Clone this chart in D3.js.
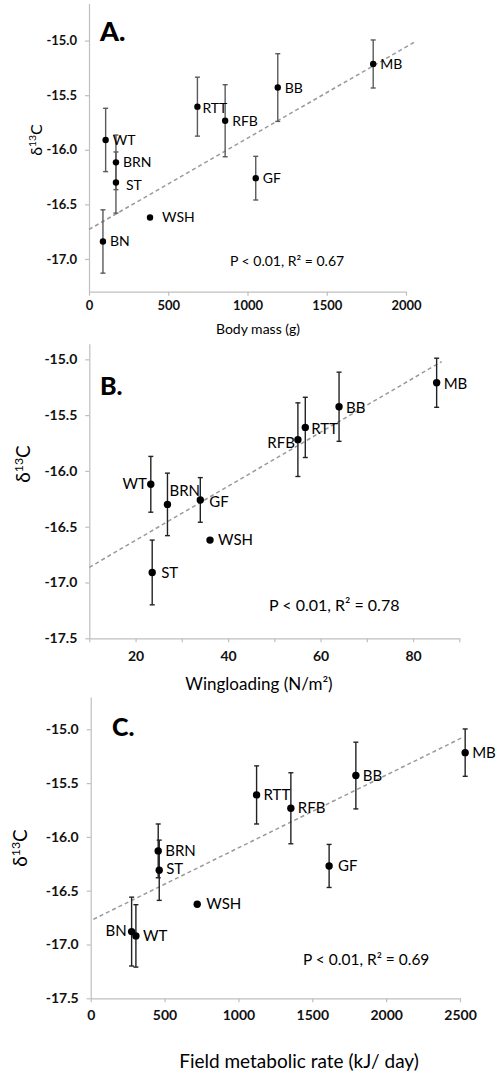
<!DOCTYPE html>
<html><head><meta charset="utf-8">
<script src="https://cdn.jsdelivr.net/npm/d3@7/dist/d3.min.js"></script>
<style>
html,body{margin:0;padding:0;background:#fff;}
svg{display:block;font-family:Lato,"Open Sans",sans-serif;}
</style></head>
<body>
<svg id="chart" width="498" height="1077"></svg>
<script>
// ---------- DATA ----------
// Panel A: body mass (g)
const namesA = ["WT","BRN","ST","BN","WSH","RTT","RFB","BB","GF","MB"];
const xA     = [105, 170, 170, 88, 385, 684, 859, 1191, 1052, 1793];
const yA     = [-15.91,-16.115,-16.30,-16.84,-16.62,-15.605,-15.734,-15.43,-16.26,-15.214];
const errA   = [0.29, 0.25, 0.28, 0.29, 0, 0.27, 0.33, 0.31, 0.20, 0.22];
const trendA = {x0:0, x1:2058, intercept:-16.73, slope:0.000836};
const xTicksA = [0,500,1000,1500,2000];
const yTicksA = [-15.0,-15.5,-16.0,-16.5,-17.0];

// Panel B: wingloading (N/m2)
const namesB = ["WT","BRN","GF","WSH","ST","RFB","RTT","BB","MB"];
const xB     = [23.3, 26.9, 34.0, 36.1, 23.6, 55.1, 56.7, 64.0, 85.1];
const yB     = [-16.12,-16.30,-16.26,-16.62,-16.91,-15.72,-15.61,-15.425,-15.21];
const errB   = [0.25, 0.28, 0.20, 0, 0.29, 0.33, 0.27, 0.31, 0.22];
const trendB = {x0:10, x1:86.2, intercept:-17.106, slope:0.0242};
const xTicksB = [10,20,30,40,50,60,70,80,90];
const yTicksB = [-15.0,-15.5,-16.0,-16.5,-17.0,-17.5];

// Panel C: field metabolic rate (kJ/day)
const namesC = ["BRN","ST","BN","WT","WSH","RTT","RFB","GF","BB","MB"];
const xC     = [457, 464, 277, 306, 721, 1123, 1355, 1614, 1795, 2535];
const yC     = [-16.13,-16.31,-16.88,-16.92,-16.626,-15.61,-15.734,-16.27,-15.43,-15.217];
const errC   = [0.25, 0.28, 0.32, 0.29, 0, 0.27, 0.33, 0.20, 0.31, 0.22];
const trendC = {x0:18, x1:2521, intercept:-16.778, slope:0.000676};
const xTicksC = [0,500,1000,1500,2000,2500];
const yTicksC = [-15.0,-15.5,-16.0,-16.5,-17.0,-17.5];

const statA = "P < 0.01, R\u00B2 = 0.67";
const statB = "P < 0.01, R\u00B2 = 0.78";
const statC = "P < 0.01, R\u00B2 = 0.69";

// ---------- LAYOUT / STYLE ----------
const panels = [
  {letter:"A.", names:namesA, xs:xA, ys:yA, errs:errA, trend:trendA, xTicks:xTicksA, yTicks:yTicksA,
   xDomain:[0,2000], xRange:[89,406], yDomain:[-17.3,-14.66], yRange:[291.7,3.5],
   xLabel:"Body mass (g)", xLabelPos:[258,334], xLabelSize:14,
   yLabelPos:[42,140], yLabelSize:16, letterPos:[100,41], letterSize:27,
   stat:statA, statPos:[230,266], statSize:14, tickSize:13, labelSize:14, r:3.2,
   errColor:"#5a5a5a", xTickLabelDy:14, xTickFmt:d=>d,
   place:{ST:[10,7],WSH:[12,4.5],RTT:[5,6]}},
  {letter:"B.", names:namesB, xs:xB, ys:yB, errs:errB, trend:trendB, xTicks:xTicksB, yTicks:yTicksB,
   xDomain:[10,90], xRange:[89.3,459.3], yDomain:[-17.5,-14.86], yRange:[638.3,343.7],
   xLabel:"Wingloading (N/m\u00B2)", xLabelPos:[259,690], xLabelSize:17,
   yLabelPos:[30,464], yLabelSize:19, letterPos:[100,395], letterSize:25,
   stat:statB, statPos:[269,610.7], statSize:16, tickSize:14, labelSize:15, r:3.7,
   errColor:"#222", xTickLabelDy:17.5, xTickFmt:d=>(d%20===0?d:""),
   place:{WT:[-4,5,"end"],BRN:[2,-8],GF:[9,7],WSH:[8,5],ST:[9,6],RFB:[-3,8,"end"],RTT:[6,7],BB:[7,6],MB:[7,6]}},
  {letter:"C.", names:namesC, xs:xC, ys:yC, errs:errC, trend:trendC, xTicks:xTicksC, yTicks:yTicksC,
   xDomain:[0,2500], xRange:[90.7,460], yDomain:[-17.5,-14.7], yRange:[998.3,697],
   xLabel:"Field metabolic rate (kJ/ day)", xLabelPos:[299,1068], xLabelSize:19,
   yLabelPos:[27,848], yLabelSize:19, letterPos:[112,736], letterSize:25,
   stat:statC, statPos:[303,965], statSize:15.5, tickSize:14, labelSize:15, r:3.7,
   errColor:"#222", xTickLabelDy:16.7, xTickFmt:d=>d,
   place:{BN:[-5,4,"end"],WT:[7,5],WSH:[9,5],GF:[9,5],ST:[7,4]}}
];

const svg = d3.select("#chart");
const axisColor = "#bfbfbf";

panels.forEach(p => {
  const g = svg.append("g");
  const x = d3.scaleLinear().domain(p.xDomain).range(p.xRange);
  const y = d3.scaleLinear().domain(p.yDomain).range(p.yRange);

  // y axis
  const yAxis = d3.axisLeft(y).tickValues(p.yTicks).tickSize(4).tickSizeOuter(0)
      .tickPadding(8).tickFormat(d => d.toFixed(1));
  const ya = g.append("g").attr("transform",`translate(${p.xRange[0]},0)`).call(yAxis);
  // x axis
  const xAxis = d3.axisBottom(x).tickValues(p.xTicks).tickSize(4).tickSizeOuter(0)
      .tickPadding(p.xTickLabelDy - 9).tickFormat(p.xTickFmt);
  const xa = g.append("g").attr("transform",`translate(0,${p.yRange[0]})`).call(xAxis);

  [ya, xa].forEach(a => {
    a.select(".domain").attr("stroke", axisColor).attr("stroke-width",1.2);
    a.selectAll(".tick line").attr("stroke", axisColor).attr("stroke-width",1.2);
    a.selectAll(".tick text").attr("fill","#111").attr("font-size",p.tickSize)
      .attr("font-weight",700).attr("font-family","Lato, sans-serif");
  });

  // trend line
  const t = p.trend;
  g.append("line")
    .attr("x1", x(t.x0)).attr("y1", y(t.intercept + t.slope*t.x0))
    .attr("x2", x(t.x1)).attr("y2", y(t.intercept + t.slope*t.x1))
    .attr("stroke","#9a9a9a").attr("stroke-width",1.5).attr("stroke-dasharray","4,3");

  const data = p.names.map((n,i)=>({name:n, x:p.xs[i], y:p.ys[i], e:p.errs[i]}));

  // error bars
  const eb = g.selectAll(".eb").data(data.filter(d=>d.e>0)).enter().append("g")
      .attr("stroke",p.errColor).attr("stroke-width",1.4).attr("fill","none");
  eb.append("line").attr("x1",d=>x(d.x)).attr("x2",d=>x(d.x))
    .attr("y1",d=>y(d.y+d.e)).attr("y2",d=>y(d.y-d.e));
  eb.append("line").attr("x1",d=>x(d.x)-2.5).attr("x2",d=>x(d.x)+2.5)
    .attr("y1",d=>y(d.y+d.e)).attr("y2",d=>y(d.y+d.e));
  eb.append("line").attr("x1",d=>x(d.x)-2.5).attr("x2",d=>x(d.x)+2.5)
    .attr("y1",d=>y(d.y-d.e)).attr("y2",d=>y(d.y-d.e));

  // points
  g.selectAll(".pt").data(data).enter().append("circle")
    .attr("cx",d=>x(d.x)).attr("cy",d=>y(d.y)).attr("r",p.r).attr("fill","#000");

  // labels
  g.selectAll(".lb").data(data).enter().append("text")
    .attr("x",d=>x(d.x) + (p.place[d.name]?p.place[d.name][0]:7))
    .attr("y",d=>y(d.y) + (p.place[d.name]?p.place[d.name][1]:5))
    .attr("text-anchor",d=>(p.place[d.name]&&p.place[d.name][2])||"start")
    .attr("font-size",p.labelSize).attr("fill","#000")
    .text(d=>d.name);

  // panel letter
  g.append("text").attr("x",p.letterPos[0]).attr("y",p.letterPos[1])
    .attr("font-size",p.letterSize).attr("font-weight",900).text(p.letter);

  // stat text
  g.append("text").attr("x",p.statPos[0]).attr("y",p.statPos[1])
    .attr("font-size",p.statSize).text(p.stat);

  // x label
  g.append("text").attr("x",p.xLabelPos[0]).attr("y",p.xLabelPos[1])
    .attr("text-anchor","middle").attr("font-size",p.xLabelSize).text(p.xLabel);

  // y label
  const yl = g.append("text")
    .attr("transform",`translate(${p.yLabelPos[0]},${p.yLabelPos[1]}) rotate(-90)`)
    .attr("text-anchor","middle").attr("font-size",p.yLabelSize);
  yl.append("tspan").text("\u03B4");
  yl.append("tspan").attr("font-size",p.yLabelSize*0.65).attr("dy",-p.yLabelSize*0.38).text("13");
  yl.append("tspan").attr("dy",p.yLabelSize*0.38).text("C");
});
</script>
</body></html>
